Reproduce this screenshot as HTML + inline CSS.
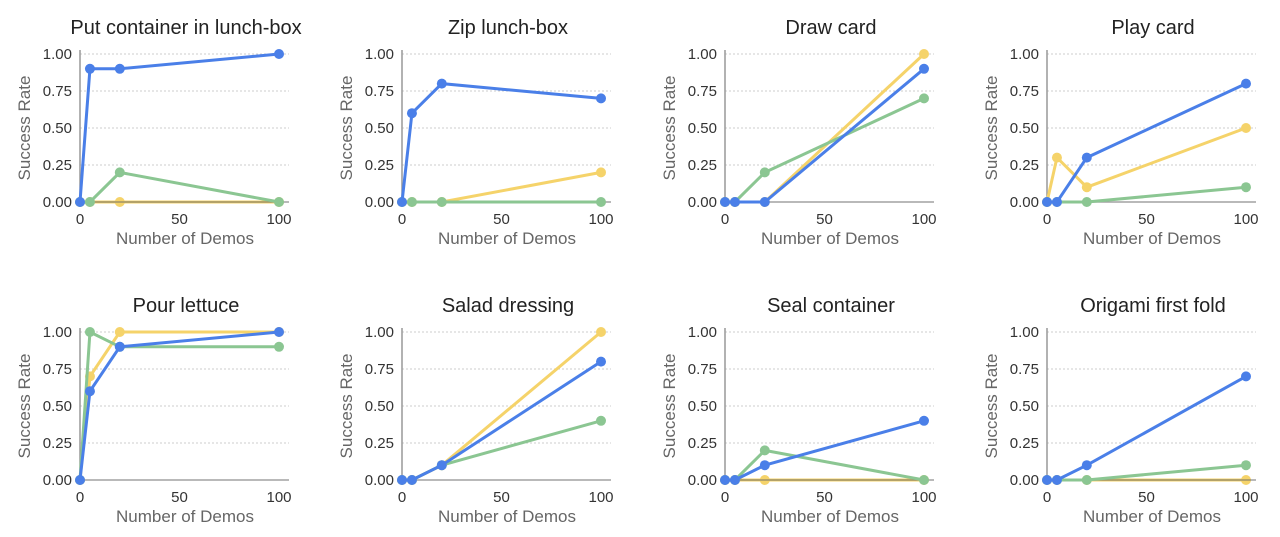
<!DOCTYPE html>
<html><head><meta charset="utf-8"><style>
html,body{margin:0;padding:0;background:#fff;}
svg{display:block;font-family:"Liberation Sans",sans-serif;}
</style></head><body>
<svg id="s" width="1280" height="537" xmlns="http://www.w3.org/2000/svg"></svg>
<script>
const P=[
["Put container in lunch-box",[0,.9,.9,1],[0,0,.2,0],[0,0,0,0]],
["Zip lunch-box",[0,.6,.8,.7],[0,0,0,0],[0,0,0,.2]],
["Draw card",[0,0,0,.9],[0,0,.2,.7],[0,0,0,1]],
["Play card",[0,0,.3,.8],[0,0,0,.1],[0,.3,.1,.5]],
["Pour lettuce",[0,.6,.9,1],[0,1,.9,.9],[0,.7,1,1]],
["Salad dressing",[0,0,.1,.8],[0,0,.1,.4],[0,0,.1,1]],
["Seal container",[0,0,.1,.4],[0,0,.2,0],[0,0,0,0]],
["Origami first fold",[0,0,.1,.7],[0,0,0,.1],[0,0,0,0]]];
const X0=[80,402,725,1047],XS=[0,5,20,100];
let h='';
P.forEach((p,i)=>{
 const c=i%4,r=Math.floor(i/4),x0=X0[c],y0=r?480:202,sx=1.99,sy=148;
 const X=v=>x0+v*sx,Y=v=>y0-v*sy;
 h+=`<text x="${x0+106}" y="${y0-168}" text-anchor="middle" font-size="20" fill="#222">${p[0]}</text>`;
 [0,.25,.5,.75,1].forEach(t=>{
  if(t>0)h+=`<line x1="${x0}" x2="${x0+209}" y1="${Y(t)}" y2="${Y(t)}" stroke="#ccc" stroke-dasharray="2,2" stroke-width="1"/>`;
  h+=`<text x="${x0-8}" y="${Y(t)+5}" text-anchor="end" font-size="15" fill="#333">${t.toFixed(2)}</text>`;
 });
 h+=`<line x1="${x0}" x2="${x0}" y1="${y0-152}" y2="${y0}" stroke="#999" stroke-width="1.5"/>`;
 const draw=(d,col)=>{
  h+=`<polyline fill="none" stroke="${col}" stroke-width="3" points="${d.map((v,k)=>X(XS[k])+','+Y(v)).join(' ')}"/>`;
  d.forEach((v,k)=>h+=`<circle cx="${X(XS[k])}" cy="${Y(v)}" r="5" fill="${col}"/>`);
 };
 draw(p[3],"#f5d36a");
 h+=`<line x1="${x0}" x2="${x0+209}" y1="${y0}" y2="${y0}" stroke="#666" stroke-width="1.5" opacity="0.6"/>`;
 draw(p[2],"#8bc692");
 draw(p[1],"#4a7fe8");
 [0,50,100].forEach(t=>h+=`<text x="${X(t)}" y="${y0+22}" text-anchor="middle" font-size="15" fill="#333">${t}</text>`);
 h+=`<text x="${x0+105}" y="${y0+42}" text-anchor="middle" font-size="17" fill="#666">Number of Demos</text>`;
 h+=`<text transform="translate(${x0-50},${y0-74}) rotate(-90)" text-anchor="middle" font-size="17" fill="#666">Success Rate</text>`;
});
document.getElementById('s').innerHTML=h;
</script>
</body></html>
